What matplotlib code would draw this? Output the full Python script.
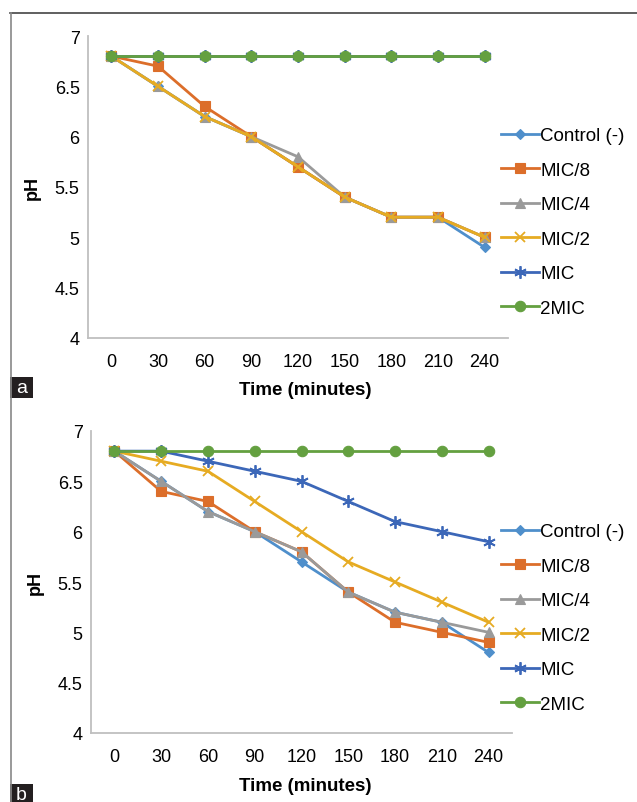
import numpy as np
import matplotlib
matplotlib.use('Agg')
import matplotlib.pyplot as plt
from matplotlib.patches import Rectangle
from matplotlib.lines import Line2D

plt.rcParams['font.family'] = ['Liberation Sans', 'DejaVu Sans']

# Time points (minutes)
times = [0, 30, 60, 90, 120, 150, 180, 210, 240]
series_names = ['Control (-)', 'MIC/8', 'MIC/4', 'MIC/2', 'MIC', '2MIC']

# Panel a pH values
a_control = [6.8, 6.5, 6.2, 6.0, 5.7, 5.4, 5.2, 5.2, 4.9]
a_mic8 = [6.8, 6.7, 6.3, 6.0, 5.7, 5.4, 5.2, 5.2, 5.0]
a_mic4 = [6.8, 6.5, 6.2, 6.0, 5.8, 5.4, 5.2, 5.2, 5.0]
a_mic2 = [6.8, 6.5, 6.2, 6.0, 5.7, 5.4, 5.2, 5.2, 5.0]
a_mic = [6.8, 6.8, 6.8, 6.8, 6.8, 6.8, 6.8, 6.8, 6.8]
a_2mic = [6.8, 6.8, 6.8, 6.8, 6.8, 6.8, 6.8, 6.8, 6.8]

# Panel b pH values
b_control = [6.8, 6.5, 6.2, 6.0, 5.7, 5.4, 5.2, 5.1, 4.8]
b_mic8 = [6.8, 6.4, 6.3, 6.0, 5.8, 5.4, 5.1, 5.0, 4.9]
b_mic4 = [6.8, 6.5, 6.2, 6.0, 5.8, 5.4, 5.2, 5.1, 5.0]
b_mic2 = [6.8, 6.7, 6.6, 6.3, 6.0, 5.7, 5.5, 5.3, 5.1]
b_mic = [6.8, 6.8, 6.7, 6.6, 6.5, 6.3, 6.1, 6.0, 5.9]
b_2mic = [6.8, 6.8, 6.8, 6.8, 6.8, 6.8, 6.8, 6.8, 6.8]

# styles: colour, marker, size
styles = [
    ('#4f8fcb', 'D', 5.5),
    ('#dc6e2a', 's', 7.5),
    ('#9a9a9a', '^', 7.5),
    ('#e6ab22', 'x', 7.5),
    ('#3c67b8', (6, 2, 0), 9),
    ('#64a040', 'o', 7.5),
]

fs = 13

fig = plt.figure(figsize=(6.37, 8.03), dpi=100)

# outer frame lines
fig.add_artist(Line2D([10/637, 1], [1-14/803, 1-14/803], color='#444444', lw=1.2))
fig.add_artist(Line2D([11/637, 11/637], [0, 1-14/803], color='#888888', lw=1.2))


def draw_panel(rect, data, legend_y, label, label_y, xlabel_y):
    ax = fig.add_axes(rect)
    x = np.arange(len(times))
    for (name, vals), (col, mk, ms) in zip(zip(series_names, data), styles):
        ax.plot(x, vals, color=col, lw=2, marker=mk, markersize=ms,
                markeredgewidth=1.3 if mk in ('x',) or isinstance(mk, tuple) else 0.8,
                markeredgecolor=col, label=name)
    ax.set_xlim(-0.5, len(times) - 0.5)
    ax.set_ylim(4, 7)
    ax.set_xticks(x)
    ax.set_xticklabels([str(t) for t in times])
    ax.set_yticks([4, 4.5, 5, 5.5, 6, 6.5, 7])
    ax.set_yticklabels(['4', '4.5', '5', '5.5', '6', '6.5', '7'])
    ax.tick_params(length=0, labelsize=fs)
    ax.tick_params(axis='x', pad=11)
    ax.tick_params(axis='y', pad=6)
    for s in ['top', 'right']:
        ax.spines[s].set_visible(False)
    for s in ['left', 'bottom']:
        ax.spines[s].set_color('#bfbfbf')
        ax.spines[s].set_linewidth(1.3)
    ax.set_ylabel('pH', fontsize=fs, fontweight='bold', labelpad=10)
    fig.text(0.479, xlabel_y, 'Time (minutes)', fontsize=fs + 0.5, fontweight='bold',
             ha='center', va='center')
    ax.legend(loc='center left', bbox_to_anchor=(501/637, legend_y),
              bbox_transform=fig.transFigure, frameon=False, fontsize=fs + 0.5,
              handlelength=2.0, labelspacing=0.93, handletextpad=0.1,
              borderaxespad=0, borderpad=0)
    # panel letter box
    fig.add_artist(Rectangle((10/637, label_y), 23/637, 21/803,
                             facecolor='#231f20', edgecolor='none'))
    fig.text(21.5/637, label_y + 10/803, label, color='white', fontsize=fs + 1,
             ha='center', va='center')
    return ax


draw_panel([88/637, 1-339/803, 420/637, 302/803],
           [a_control, a_mic8, a_mic4, a_mic2, a_mic, a_2mic],
           1-223/803, 'a', 1-399/803, 1-391/803)
draw_panel([91/637, 1-734/803, 421/637, 302/803],
           [b_control, b_mic8, b_mic4, b_mic2, b_mic, b_2mic],
           1-619/803, 'b', 1-806/803, 1-787/803)

fig.savefig('out.png', dpi=100)
